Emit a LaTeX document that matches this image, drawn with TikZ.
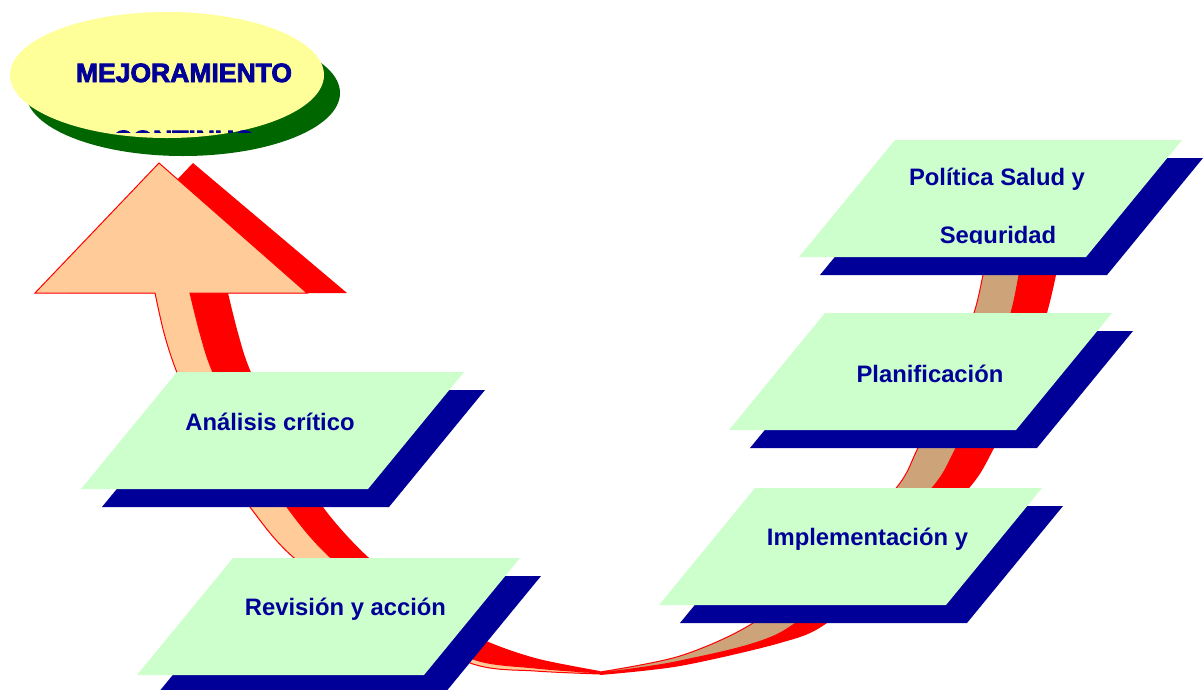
\documentclass[tikz,border=0pt]{standalone}
\usepackage{fontspec}
\setmainfont{Liberation Sans}
\newfontfamily\heavyfont{Liberation Sans}[BoldFeatures={FakeBold=3}]
\definecolor{boxnavy}{RGB}{0,0,153}
\definecolor{boxgreen}{RGB}{204,255,204}
\definecolor{ovalyellow}{RGB}{255,255,153}
\definecolor{ovalgreen}{RGB}{0,102,0}
\definecolor{peach}{RGB}{255,204,153}
\definecolor{tanface}{RGB}{205,164,122}
\definecolor{arrowred}{RGB}{255,0,0}
\tikzset{
  boxface/.style={fill=boxgreen},
  boxshadow/.style={fill=boxnavy},
  lbl/.style={text=boxnavy, font=\bfseries\fontsize{23.8pt}{28pt}\selectfont, inner sep=0pt, anchor=base},
  bigtitle/.style={text=boxnavy, font=\heavyfont\bfseries\fontsize{26.5pt}{30pt}\selectfont, inner sep=0pt, anchor=base},
  redpart/.style={fill=arrowred},
  frontpart/.style={draw=arrowred, line width=1pt, line join=miter},
}
\newcommand\drawplate[2]{%
  \fill[boxshadow] ({#1+21},{#2+18}) -- ++(287,0) -- ++(-96,117) -- ++(-287,0) -- cycle;
  \fill[boxface] (#1,#2) -- ++(287,0) -- ++(-96,117) -- ++(-287,0) -- cycle;
}
\begin{document}
\begin{tikzpicture}[x=1pt,y=-1pt]
\useasboundingbox (0,0) rectangle (1203,689);
\clip (0,0) rectangle (1203,689);

% oval
\fill[ovalgreen] (183,93) ellipse [x radius=157pt, y radius=63pt];
\fill[ovalyellow] (167,75) ellipse [x radius=157pt, y radius=63pt];
\node[bigtitle] (mej) at (184,82) {MEJORAMIENTO};
\begin{scope}
  \clip (0,0) rectangle (400,132);
  \node[bigtitle] (cont) at (184,149) {CONTINUO};
\end{scope}

% left red side (arrowhead shadow + shaft side)
\fill[redpart] (69,293) -- (193,163) -- (347,293) -- (228,293)
  -- plot[smooth] coordinates {(228,293) (238,333) (250,370) (283,440) (323,507) (368,557) (430,605) (480,638) (535,658) (600,671)}
  -- plot[smooth] coordinates {(600,673) (535,668) (473,659) (410,620) (330,557) (287,507) (245,440) (212,370) (200,333) (190,293)}
  -- cycle;

% right red side
\fill[redpart] plot[smooth] coordinates {(600,673) (680,661) (780,633) (860,565) (933,487) (955,450) (990,380) (1011,313) (1019,275) (1025,240)}
  -- plot[smooth] coordinates {(1062,240) (1056,275) (1047,313) (1027,380) (993,450) (970,487) (905,555) (827,623) (780,643) (680,666) (600,675)}
  -- cycle;

% left front face with arrowhead
\filldraw[frontpart, fill=peach] (190,293) -- (307,293) -- (159,163) -- (35,293) -- (155,293)
  -- plot[smooth] coordinates {(155,293) (164,333) (176,370) (205,440) (250,507) (293,557) (380,620) (473,664) (535,671) (600,674)}
  -- plot[smooth] coordinates {(600,673) (535,668) (473,659) (410,620) (330,557) (287,507) (245,440) (212,370) (200,333) (190,293)}
  -- cycle;

% right front face
\filldraw[frontpart, fill=tanface] plot[smooth] coordinates {(600,672) (680,656) (753,623) (830,560) (897,487) (917,450) (950,380) (974,313) (983,275) (990,240)}
  -- plot[smooth] coordinates {(1025,240) (1019,275) (1011,313) (990,380) (955,450) (933,487) (860,565) (780,633) (680,661) (600,673)}
  -- cycle;

% plates
\drawplate{895}{140}
\drawplate{825}{313}
\drawplate{755}{488}
\drawplate{177}{372}
\drawplate{233}{558}

% labels
\node[lbl] (pol1) at (997,185) {Política Salud y};
\begin{scope}
  \clip (790,190) rectangle (1200,243.5);
  \node[lbl] (pol2) at (998,243) {Seguridad};
\end{scope}
\node[lbl] (plan) at (930,382) {Planificación};
\node[lbl] (impl) at (867.5,545) {Implementación y};
\node[lbl] (anal) at (270,430) {Análisis crítico};
\node[lbl] (rev) at (345.5,615) {Revisión y acción};
\end{tikzpicture}
\end{document}
